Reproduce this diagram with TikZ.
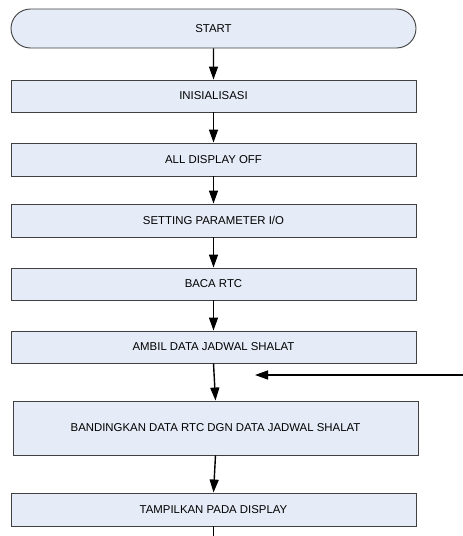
\documentclass[tikz,border=0pt]{standalone}
\usepackage{fontspec}
\setmainfont{Liberation Sans}
\usetikzlibrary{arrows.meta}
\usetikzlibrary{shapes.misc}
\usetikzlibrary{math}
\usetikzlibrary{positioning}

\definecolor{boxfill}{RGB}{230,236,247}
\definecolor{boxline}{RGB}{64,64,64}

\tikzset{
    proses/.style={rectangle,draw=boxline,fill=boxfill,line width=0.9pt,
        minimum width=405pt,minimum height=32pt,inner sep=0pt,
        font=\fontsize{11.4}{13}\selectfont},
    terminal/.style={proses,rounded rectangle,minimum height=39pt},
    panah/.style={-{Triangle[length=13pt,width=9pt]},line width=1.4pt}
}

\begin{document}
\begin{tikzpicture}[x=1pt,y=-1pt]
    \tikzmath{  \xc = 213.5 ;
                \y1 = 28.5 ;
                \y2 = 96 ;
                \y3 = 159.5 ;
                \y4 = 220.5 ;
                \y5 = 284 ;
                \y6 = 347 ;
                \y7 = 428 ;
                \y8 = 509.5 ;
                }
    \useasboundingbox (0,0) rectangle (463,536);
    \node[terminal] (start) at (\xc,\y1) {START};
    \node[proses] (init) at (\xc,\y2) {INISIALISASI};
    \node[proses,minimum height=33pt] (dispoff) at (\xc,\y3) {ALL DISPLAY OFF};
    \node[proses,minimum height=33pt] (setio) at (\xc,\y4) {SETTING PARAMETER I/O};
    \node[proses] (bacartc) at (\xc,\y5) {BACA RTC};
    \node[proses] (ambil) at (\xc,\y6) {AMBIL DATA JADWAL SHALAT};
    \node[proses,minimum height=54pt] (banding) at (\xc+2,\y7) {BANDINGKAN DATA RTC DGN DATA JADWAL SHALAT};
    \node[proses,minimum height=33pt] (tampil) at (\xc,\y8) {TAMPILKAN PADA DISPLAY};
    \coordinate (balik) at (463,375);
    \coordinate (balikujung) at (255,375);
    \coordinate (bawah) at (\xc,536);

    \draw[panah] (start) -- (init);
    \draw[panah] (init) -- (dispoff);
    \draw[panah] (dispoff) -- (setio);
    \draw[panah] (setio) -- (bacartc);
    \draw[panah] (bacartc) -- (ambil);
    \draw[panah] (ambil.south) -- (banding.north);
    \draw[panah] (banding.south) -- (tampil.north);
    \draw[line width=1.4pt] (tampil.south) -- (bawah);
    \draw[panah] (balik) -- (balikujung);
\end{tikzpicture}
\end{document}
